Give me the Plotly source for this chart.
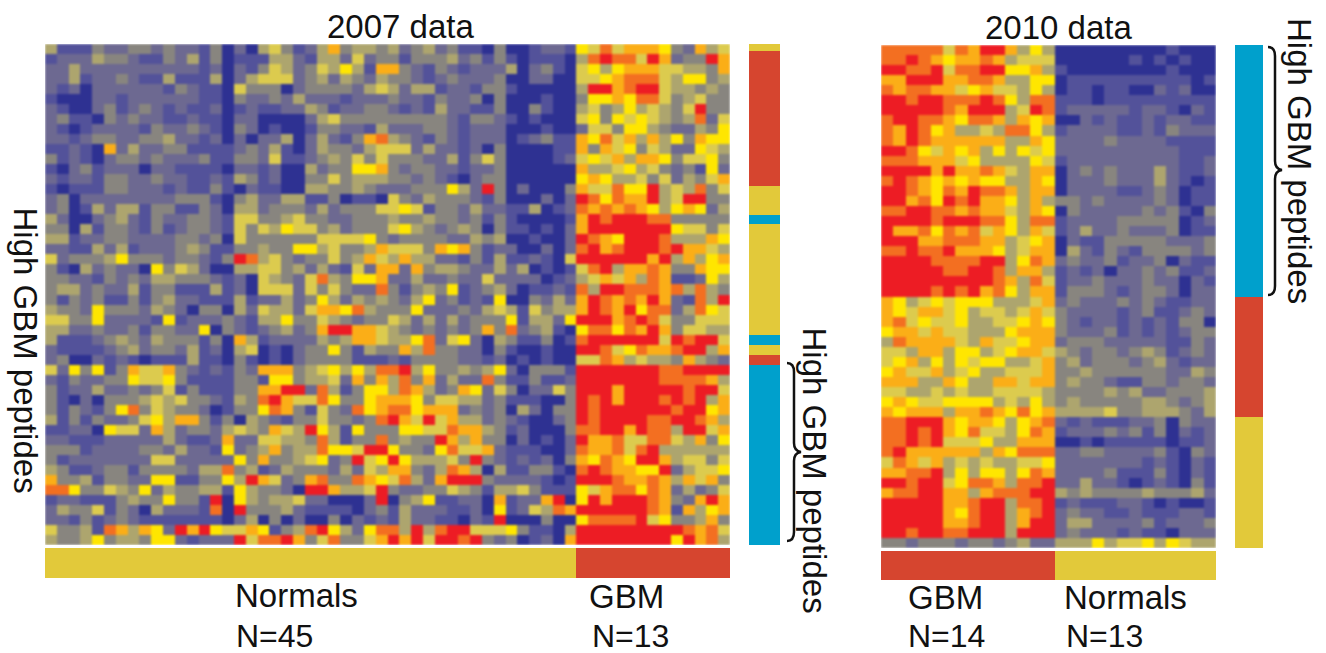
import plotly.graph_objects as go

W, H = 1326, 653

# intensity levels 0 (deep blue) .. 9 (red)
data_2007 = """
4111322332 3221302045 312473443 4234231103 0012216585 777632745
1222433211 3241301114 421442523 3133342313 1011104898 859723397
2242222222 2221202135 423546417 7321321222 4023105646 777554437
2241223211 4111402455 523424324 3321232223 0022005567 888546634
2120222222 1321105333 023333245 4244122133 1000004997 899544343
1000221222 2221103223 242221222 3221322303 0001003667 688534533
2100231232 1211201211 224312233 2121422113 0031004534 645435933
2311032322 1121102200 002453333 3333321332 1010005636 565434825
2101222213 2232103201 001332214 2223321222 0001002553 664322436
2212332233 4221202022 402421378 4321321222 0123117685 747463766
1121072422 3311112324 102433245 5524221203 0000117375 635422654
3121023323 2223113325 112343535 3332241353 0000125657 477635563
1023122202 2111102212 004233667 3233221223 0000007445 645323162
2122133223 2211214312 003353444 3323210233 0000006764 453524357
1011133222 1211310211 004433432 2233364293 0200037558 669454835
2302222222 2333103422 441130110 5324333213 0002029868 779459933
2301424413 3113204423 332423335 5651332422 1140128787 876467624
4200234213 2233215533 453322333 4334332313 1000017989 998833333
3304133213 1233215354 655342333 5643234303 1101027999 999965535
4412233222 2332305333 333555563 2333322434 0010029876 999844476
2211424122 2343113343 366453347 5553767312 2002028978 999897754
5233346333 2332139845 323353475 4744221314 1121059999 997947467
3104232206 3542004455 342421527 7273443224 2401015894 778733766
3322132324 4333212054 325843667 2242232252 2220124575 748711264
3442322413 3111412055 525353228 3134361234 2011218499 888784843
3132311313 4221114122 423642434 3246231216 0032427987 879721849
4332633324 3203304254 425776843 3362223245 4153447987 968824865
5533622221 6122232144 633543233 5424242333 6144269997 898533555
4422322313 3226032123 423799775 4323232373 8234106886 879735544
4111234324 3331307412 222434775 4468256204 3113018999 999598995
2111123423 3241204501 023363143 3748332203 1001009985 687789947
2300212101 1141103101 023333111 2133332212 0101005587 454437432
5263613755 7321213277 734564648 8946334346 2033319999 999889999
2132233655 6311113316 634452737 4837242283 1131129999 999888874
3122422323 5131113377 992841366 4874237625 3022539997 999998995
3102033345 4533214389 755863367 7763554423 1110039897 999898947
3132136835 4332013368 731532867 8867772323 0420339899 999989967
4131322356 4773130432 133533238 9759574423 2100239899 998899874
1122065527 4233245437 549641633 3665587743 1200038899 798849957
2211122222 4211272255 443841338 3433974733 0201029778 558854736
3331222233 2422162347 344866599 6332685572 1110028778 589444444
3122222225 5222226373 345623956 9644453932 1212037687 699745535
4311233133 3324483412 433324254 7732487404 1133108987 766924556
7334133226 6113364975 237833876 5842799932 2221019998 778747573
8863354362 4334416433 209974459 3223354314 4531116578 868724235
1221113433 6331906434 452200029 0346112207 1227906979 998732797
2433513204 2221809333 421111023 1422211206 1254879999 998717467
2213123211 1111102403 020030212 1422110219 0003006888 895633473
5334187476 2979655761 348964268 8494899555 6311049999 999998785
4334634436 6212229588 973583357 9795998932 3012079999 999969784
"""

data_2010 = """
88888587997464 0000000001000
88987677874555 0000001010100
99889588996674 1000000001000
77999778874466 0111111111101
87887756755464 0110110021200
99899888986488 1110111111111
99999879994598 1222221221021
89988768874767 0021211212211
87986744548864 1222211213222
87987777774476 2222322221111
99865767464656 2222222222111
88877756444465 1222222222112
99997977875477 0232322242112
89876767664476 0222322242101
99876879887477 0222211232011
99786989776474 3323222232011
88998878775476 0322222323103
99998999886488 1222233333012
97786878576475 1242232223011
99977888774567 0211333332223
88988977764577 0421321333323
99998888994687 2322312230211
99999889984774 1212022323112
99999999987485 1223222322021
99998989786477 1333212332022
76456566644457 2322232321122
76577564554575 3222212311232
78565564455676 3212212121330
67757554446777 3222312121233
48777754755677 2333222221132
55477466456775 4323323431232
56746465664457 3423332342122
67557456445557 3343333332243
77744764477577 3433211332332
55445454455554 3333434223334
67655666645464 3433333443234
76777477876867 4444533444324
88999767764678 2121112230322
88989768554687 1222323130212
88989555644777 0010111110112
89777777476888 2233222231032
58757454544556 2222222121021
77889464664687 2222311131021
99899568874889 2242210121031
78899774788899 4343333433342
99999778994889 1211122101001
99999768994789 2322112111221
99999778994799 2442222312223
99899889994999 2322212110222
33233323323422 4446455646544
"""

level_colors = ["#2E3192", "#53529A", "#6D6991", "#88857F", "#ADA56E",
                "#DCCB4E", "#FFE600", "#FBAE17", "#F36F21", "#ED1C24"]

# annotation strips: (group, length in rows or samples)
strip_left = [("y", 0.7), ("r", 13.5), ("y", 2.9), ("b", 0.9), ("y", 11.1),
              ("b", 1.0), ("y", 1.0), ("r", 1.0), ("b", 18.0)]
strip_right = [("b", 25), ("r", 12), ("y", 13)]
groups_2007 = [("y", 45), ("r", 13)]
groups_2010 = [("r", 14), ("y", 13)]
group_colors = {"y": "#E2C93A", "r": "#D6452F", "b": "#00A0CC"}

FONT = "Liberation Sans, Arial, sans-serif"


def parse(text, ncols):
    rows = []
    for line in text.strip().splitlines():
        rows.append([int(c) for c in line.replace(" ", "")][:ncols])
        assert len(rows[-1]) == ncols, line
    return rows


def fx(px):
    return px / W


def fy(py):
    return 1 - py / H


fig = go.Figure()
n = len(level_colors)
colorscale = []
for i, c in enumerate(level_colors):
    colorscale += [[i / n, c], [(i + 1) / n, c]]

axis_common = dict(visible=False, fixedrange=True)
axes = {}
axis_id = [0]


def new_axes(x0, x1, y0, y1, xr, yr):
    axis_id[0] += 1
    k = axis_id[0]
    axes[f"xaxis{k}"] = dict(domain=[fx(x0), fx(x1)], range=xr, anchor=f"y{k}", **axis_common)
    axes[f"yaxis{k}"] = dict(domain=[fy(y1), fy(y0)], range=yr, anchor=f"x{k}", **axis_common)
    return f"x{k}", f"y{k}"


def add_heat(rows, x0, x1, y0, y1):
    xa, ya = new_axes(x0, x1, y0, y1, [-0.5, len(rows[0]) - 0.5], [len(rows) - 0.5, -0.5])
    fig.add_trace(go.Heatmap(z=rows, zmin=0, zmax=n, colorscale=colorscale, showscale=False,
                             xaxis=xa, yaxis=ya, hoverinfo="skip"))


def add_vstrip(segs, x0, x1, y0, y1):
    total = sum(s[1] for s in segs)
    xa, ya = new_axes(x0, x1, y0, y1, [-0.5, 0.5], [total, 0])
    for g, h in segs:
        fig.add_trace(go.Bar(x=[0], y=[h], width=1, marker=dict(color=group_colors[g], line_width=0),
                             xaxis=xa, yaxis=ya, showlegend=False, hoverinfo="skip"))


def add_hstrip(segs, x0, x1, y0, y1):
    total = sum(s[1] for s in segs)
    xa, ya = new_axes(x0, x1, y0, y1, [0, total], [-0.5, 0.5])
    for g, h in segs:
        fig.add_trace(go.Bar(y=[0], x=[h], width=1, orientation="h",
                             marker=dict(color=group_colors[g], line_width=0),
                             xaxis=xa, yaxis=ya, showlegend=False, hoverinfo="skip"))


add_heat(parse(data_2007, 58), 45, 730, 44, 545)
add_heat(parse(data_2010, 27), 881, 1216, 45, 548)
add_vstrip(strip_left, 749, 780, 44, 545)
add_vstrip(strip_right, 1235, 1263, 45, 548)
add_hstrip(groups_2007, 45, 730, 548, 578)
add_hstrip(groups_2010, 881, 1216, 551, 580)


def label(text, px, py, size=33, angle=0):
    return dict(text=text, x=fx(px), y=fy(py), xref="paper", yref="paper", showarrow=False,
                xanchor="center", yanchor="middle", textangle=angle,
                font=dict(family=FONT, size=size, color="#111111"))


annotations = [
    label("2007 data", 400, 27),
    label("2010 data", 1058, 28),
    label("Normals", 296, 595),
    label("N=45", 274, 635.5, 32),
    label("GBM", 626, 596),
    label("N=13", 630, 635.5, 32),
    label("GBM", 945, 597),
    label("N=14", 946, 635.5, 32),
    label("Normals", 1125, 597),
    label("N=13", 1104, 635.5, 32),
    label("High GBM peptides", 25, 350.5, 33, 90),
    label("High GBM peptides", 814.5, 470, 33, 90),
    label("High GBM peptides", 1300, 161, 33, 90),
]


def brace(x_end, x_spine, x_tip, y0, ym, y1):
    p = lambda x, y: f"{fx(x):.5f} {fy(y):.5f}"
    return (f"M {p(x_end, y0)} Q {p(x_spine, y0)} {p(x_spine, y0 + 9)} L {p(x_spine, ym - 9)} "
            f"Q {p(x_spine, ym - 1)} {p(x_tip, ym)} Q {p(x_spine, ym + 1)} {p(x_spine, ym + 9)} "
            f"L {p(x_spine, y1 - 9)} Q {p(x_spine, y1)} {p(x_end, y1)}")


shapes = [
    dict(type="path", xref="paper", yref="paper", line=dict(color="#111111", width=2.5),
         path=brace(787, 794, 801, 363, 452, 541)),
    dict(type="path", xref="paper", yref="paper", line=dict(color="#111111", width=2.5),
         path=brace(1268, 1275, 1282, 47, 170, 295)),
]

fig.update_layout(width=W, height=H, margin=dict(l=0, r=0, t=0, b=0), autosize=False,
                  paper_bgcolor="white", plot_bgcolor="white", barmode="stack", bargap=0,
                  showlegend=False, annotations=annotations, shapes=shapes, **axes)

fig.write_html("out.html", config=dict(displayModeBar=False),
               post_script=("document.body.style.margin='0';document.body.style.overflow='hidden';"
                            "document.querySelectorAll('.hm image').forEach(function(e){"
                            "e.style.filter='blur(0.8px)';});"))
